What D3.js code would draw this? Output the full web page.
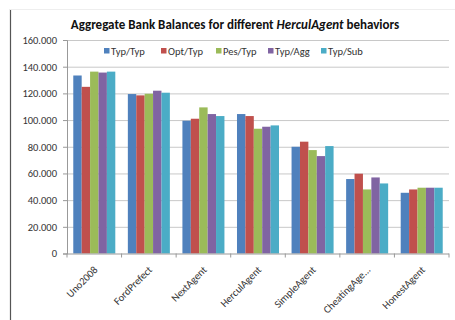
<!DOCTYPE html>
<html><head><meta charset="utf-8">
<script src="https://cdn.jsdelivr.net/npm/d3@7"></script>
<style>body{margin:0;background:#fff}svg{display:block}text{font-family:Carlito,Calibri,"Open Sans",sans-serif}</style>
</head><body><svg id="c" width="455" height="320"></svg>
<script>
const categories = ["Uno2008","FordPrefect","NextAgent","HerculAgent","SimpleAgent","CheatingAge...","HonestAgent"];
const seriesNames = ["Typ/Typ","Opt/Typ","Pes/Typ","Typ/Agg","Typ/Sub"];
const typTyp = [133400,119500,99500,104500,80000,55800,45500];
const optTyp = [124900,118500,101000,103000,83800,59800,48000];
const pesTyp = [136300,119700,109500,93500,77500,48000,49300];
const typAgg = [135600,122000,104500,95000,73000,57000,49300];
const typSub = [136300,120500,103000,96000,80500,52500,49300];
const yTicks = [0,20000,40000,60000,80000,100000,120000,140000,160000];
const colors = ["#4F81BD","#C0504D","#9BBB59","#8064A2","#4BACC6"];
const series = [typTyp,optTyp,pesTyp,typAgg,typSub];

const svg = d3.select("#c");
const L=67, R=449, T=40, B=253.5;
const x = d3.scaleBand().domain(categories).range([L,R]).paddingInner(0.23).paddingOuter(0.115);
const xs = d3.scaleBand().domain(seriesNames).range([0,x.bandwidth()]);
const y = d3.scaleLinear().domain([0,160000]).range([B,T]);
const fmt = v => v===0 ? "0" : d3.format(",.3f")(v/1000).replace(/,/g,"");

// chart border
svg.append("line").attr("x1",10.5).attr("x2",10.5).attr("y1",9).attr("y2",320).attr("stroke","#555").attr("stroke-width",1.2);
svg.append("line").attr("x1",10).attr("x2",455).attr("y1",9.5).attr("y2",9.5).attr("stroke","#eee");

// gridlines
svg.append("g").selectAll("line").data(yTicks.filter(d=>d>0)).join("line")
  .attr("x1",L).attr("x2",R).attr("y1",d=>y(d)+0.5).attr("y2",d=>y(d)+0.5)
  .attr("stroke","#c8c8c8").attr("stroke-width",1);

// y axis
const ya = svg.append("g").attr("transform",`translate(${L},0)`)
  .call(d3.axisLeft(y).tickValues(yTicks).tickFormat(fmt).tickSize(4).tickPadding(6));
ya.select(".domain").attr("stroke","#999");
ya.selectAll(".tick line").attr("stroke","#999");
ya.selectAll("text").attr("font-size","10.5px").attr("fill","#333");

// bars
const g = svg.append("g");
series.forEach((s,i)=>{
  g.append("g").selectAll("rect").data(s).join("rect")
   .attr("x",(d,j)=>x(categories[j])+xs(seriesNames[i]))
   .attr("width",xs.bandwidth())
   .attr("y",d=>y(d)).attr("height",d=>B-y(d))
   .attr("fill",colors[i]);
});

// x axis
const xa = svg.append("g");
xa.append("line").attr("x1",L).attr("x2",R).attr("y1",B+0.5).attr("y2",B+0.5).attr("stroke","#999");
const bounds = d3.range(categories.length+1).map(i=>L+i*(R-L)/categories.length);
xa.selectAll("line.t").data(bounds).join("line").attr("class","t")
  .attr("x1",d=>d).attr("x2",d=>d).attr("y1",B).attr("y2",B+4).attr("stroke","#999");
xa.selectAll("text").data(categories).join("text")
  .attr("transform",d=>`translate(${x(d)+x.bandwidth()/2+4},${B+17}) rotate(-45)`)
  .attr("text-anchor","end").attr("font-size","10.5px").attr("fill","#333").text(d=>d);

// title
const title = svg.append("text").attr("x",235).attr("y",29).attr("text-anchor","middle")
  .attr("font-size","13px").attr("font-weight","bold").attr("fill","#111");
title.append("tspan").text("Aggregate Bank Balances for different ");
title.append("tspan").attr("font-style","italic").text("HerculAgent");
title.append("tspan").text(" behaviors");

// legend
const legX = [104,161,216,268,321];
const lg = svg.append("g");
seriesNames.forEach((n,i)=>{
  lg.append("rect").attr("x",legX[i]).attr("y",48).attr("width",5.5).attr("height",5.5).attr("fill",colors[i]);
  lg.append("text").attr("x",legX[i]+7).attr("y",55).attr("font-size","10.5px").attr("fill","#333").text(n);
});
</script></body></html>
